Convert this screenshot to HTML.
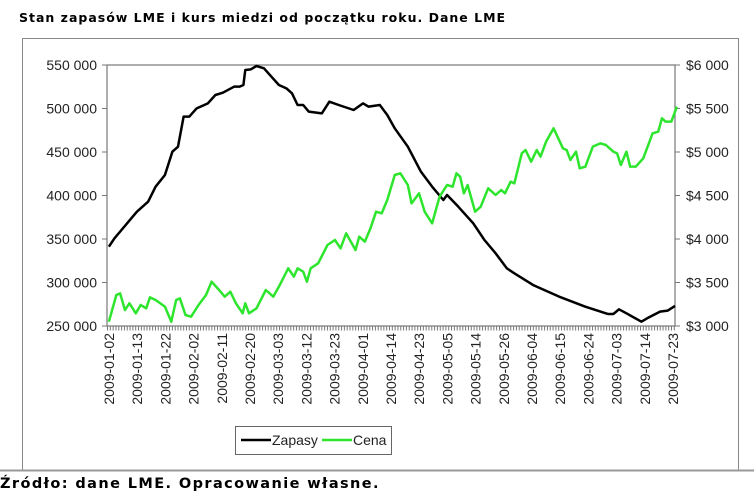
<!DOCTYPE html><html><head><style>
body{margin:0;width:754px;height:502px;background:#fff;overflow:hidden;font-family:"Liberation Sans",sans-serif}
.t{position:absolute;font-family:"DejaVu Sans",sans-serif;font-weight:bold;font-size:12.5px;color:#000;white-space:nowrap}
</style></head><body>
<div class="t" style="left:19px;top:10px;letter-spacing:1px">Stan zapasów LME i kurs miedzi od początku roku. Dane LME</div>
<div class="t" style="left:0px;top:476px;font-size:14.5px;letter-spacing:1.4px">Źródło: dane LME. Opracowanie własne.</div>
<svg width="754" height="502" style="position:absolute;left:0;top:0" font-family="Liberation Sans, sans-serif">
<rect x="22.5" y="38.5" width="716" height="432" fill="none" stroke="#888" stroke-width="1"/>
<line x1="0" y1="470.5" x2="754" y2="470.5" stroke="#999" stroke-width="2"/>
<rect x="107" y="65" width="568" height="261" fill="none" stroke="#777" stroke-width="1.2"/>
<g stroke="#777" stroke-width="1">
<line x1="102" y1="65" x2="107" y2="65"/><line x1="102" y1="108.5" x2="107" y2="108.5"/><line x1="102" y1="152" x2="107" y2="152"/><line x1="102" y1="195.5" x2="107" y2="195.5"/><line x1="102" y1="239" x2="107" y2="239"/><line x1="102" y1="282.5" x2="107" y2="282.5"/><line x1="102" y1="326" x2="107" y2="326"/>
<line x1="675" y1="65" x2="680" y2="65"/><line x1="675" y1="108.5" x2="680" y2="108.5"/><line x1="675" y1="152" x2="680" y2="152"/><line x1="675" y1="195.5" x2="680" y2="195.5"/><line x1="675" y1="239" x2="680" y2="239"/><line x1="675" y1="282.5" x2="680" y2="282.5"/><line x1="675" y1="326" x2="680" y2="326"/>
</g>
<line x1="107" y1="328" x2="675" y2="328" stroke="#777" stroke-width="5" stroke-dasharray="1 1.82"/>
<g font-size="14" fill="#222" text-anchor="end">
<text x="97" y="70">550 000</text><text x="97" y="113.5">500 000</text><text x="97" y="157">450 000</text><text x="97" y="200.5">400 000</text><text x="97" y="244">350 000</text><text x="97" y="287.5">300 000</text><text x="97" y="331">250 000</text>
</g>
<g font-size="14" fill="#222">
<text x="686" y="70">$6 000</text><text x="686" y="113.5">$5 500</text><text x="686" y="157">$5 000</text><text x="686" y="200.5">$4 500</text><text x="686" y="244">$4 000</text><text x="686" y="287.5">$3 500</text><text x="686" y="331">$3 000</text>
</g>
<g font-size="14" fill="#222" text-anchor="end">
<text transform="translate(114,333) rotate(-90)">2009-01-02</text>
<text transform="translate(142.2,333) rotate(-90)">2009-01-13</text>
<text transform="translate(170.4,333) rotate(-90)">2009-01-22</text>
<text transform="translate(198.6,333) rotate(-90)">2009-02-02</text>
<text transform="translate(226.8,333) rotate(-90)">2009-02-11</text>
<text transform="translate(255,333) rotate(-90)">2009-02-20</text>
<text transform="translate(283.2,333) rotate(-90)">2009-03-03</text>
<text transform="translate(311.4,333) rotate(-90)">2009-03-12</text>
<text transform="translate(339.6,333) rotate(-90)">2009-03-23</text>
<text transform="translate(367.8,333) rotate(-90)">2009-04-01</text>
<text transform="translate(396,333) rotate(-90)">2009-04-14</text>
<text transform="translate(424.2,333) rotate(-90)">2009-04-23</text>
<text transform="translate(452.4,333) rotate(-90)">2009-05-05</text>
<text transform="translate(480.6,333) rotate(-90)">2009-05-14</text>
<text transform="translate(508.8,333) rotate(-90)">2009-05-26</text>
<text transform="translate(537,333) rotate(-90)">2009-06-04</text>
<text transform="translate(565.2,333) rotate(-90)">2009-06-15</text>
<text transform="translate(593.4,333) rotate(-90)">2009-06-24</text>
<text transform="translate(621.6,333) rotate(-90)">2009-07-03</text>
<text transform="translate(649.8,333) rotate(-90)">2009-07-14</text>
<text transform="translate(678,333) rotate(-90)">2009-07-23</text>
</g>
<g transform="translate(99.53,60) scale(0.3737,0.33333)" fill="none" stroke-linejoin="round">
<polyline vector-effect="non-scaling-stroke" stroke="#000" stroke-width="2.5" points="25,560 40,535 70,495 100,455 130,425 150,380 175,345 195,275 210,260 225,170 240,170 260,145 290,130 310,105 330,98 360,80 375,80 385,75 390,30 405,28 420,18 440,25 460,50 480,75 500,85 515,100 530,135 545,135 560,155 595,160 615,125 640,135 680,150 705,130 720,140 750,135 770,165 790,205 825,260 860,335 890,380 920,420 930,405 960,440 1000,490 1030,540 1060,580 1090,625 1110,640 1160,675 1190,690 1230,710 1300,740 1360,762 1375,762 1390,748 1410,760 1450,785 1470,772 1500,755 1520,752 1540,738"/>
<polyline vector-effect="non-scaling-stroke" stroke="#2ee52e" stroke-width="2.5" points="25,785 45,705 55,700 68,750 80,730 97,760 110,735 125,745 135,712 150,720 175,740 192,785 205,720 215,715 230,765 245,770 265,735 285,705 300,665 320,690 335,710 350,695 365,730 383,760 390,730 400,760 420,745 445,690 465,710 480,680 505,625 520,650 530,625 545,635 555,665 565,625 585,610 610,555 630,540 645,565 660,520 685,570 695,530 710,545 725,505 740,455 755,460 770,420 790,345 805,340 825,375 835,430 855,400 870,455 890,490 910,410 930,375 945,380 955,340 965,350 975,400 985,375 1005,455 1020,440 1040,385 1060,405 1075,390 1085,400 1100,365 1110,370 1130,280 1140,270 1155,305 1170,270 1180,290 1195,245 1215,205 1240,265 1250,270 1260,300 1275,275 1285,325 1300,320 1320,260 1340,250 1355,255 1375,275 1385,280 1395,315 1410,275 1420,320 1435,320 1455,295 1470,250 1480,220 1495,215 1505,175 1515,185 1530,185 1545,140"/>
</g>
<rect x="235.5" y="426.5" width="156" height="28" fill="#fff" stroke="#666"/>
<line x1="241" y1="440" x2="271" y2="440" stroke="#000" stroke-width="2.5"/>
<text x="272" y="445" font-size="14" fill="#222">Zapasy</text>
<line x1="322" y1="440" x2="352" y2="440" stroke="#2ee52e" stroke-width="2.5"/>
<text x="353" y="445" font-size="14" fill="#222">Cena</text>
</svg>
</body></html>
